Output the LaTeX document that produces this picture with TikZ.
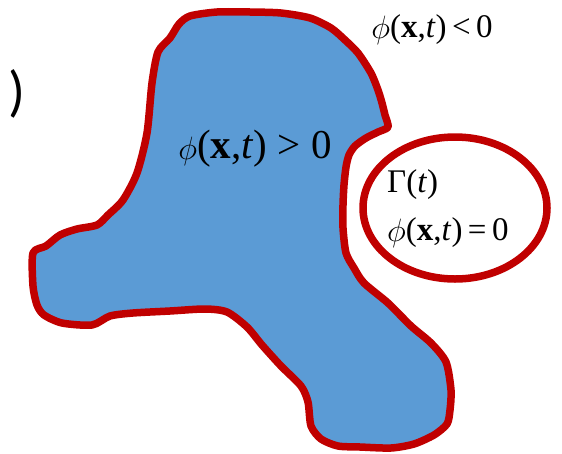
\documentclass[tikz,border=0pt]{standalone}
\usepackage{fontspec}
\setmainfont{Liberation Serif}
\newfontfamily\parenfont{Carlito}
\usetikzlibrary{shapes.geometric}
\definecolor{blobblue}{HTML}{5B9BD5}
\definecolor{edgered}{HTML}{C00000}
\tikzset{
  edge/.style={draw=edgered, line width=7.5pt, line join=round},
  lbl/.style={inner sep=0pt, text=black},
}
\newcommand{\phx}[1]{\raisebox{-0.02em}{\scalebox{1.3}{$\phi$}}(\textbf{x},\textit{t})#1}
\begin{document}
\begin{tikzpicture}[x=1pt,y=-1pt]
\useasboundingbox (0,0) rectangle (562,453);
\path[edge, fill=blobblue] plot[smooth cycle, tension=0.45] coordinates {
 (190,16) (217,12) (250,12) (281,13) (310,18) (331,28) (345,40) (358,53)
 (371,73) (378,90) (382,103) (385,115) (388,127) (378,132) (366,138)
 (355,146) (349,155) (346,167) (344,185) (343,205) (343,228) (346,253)
 (354,268) (364,283) (388,303) (411,326) (431,343) (446,362) (451,390)
 (450,410) (447,424) (434,435) (414,444) (391,448) (360,447) (338,446)
 (321,439) (311,426) (308,402) (301,386) (281,366) (262,345) (247,327)
 (227,312) (205,309) (170,311) (133,313) (110,316) (92,325) (62,323)
 (44,315) (37,305) (33,286) (33,253) (46,246) (60,235) (77,229) (97,225)
 (108,215) (123,200) (137,173) (147,133) (152,83) (158,52) (170,38)
 (179,24)
};
\node[ellipse, edge, minimum width=184pt, minimum height=142pt, inner sep=0pt] (gam) at (455,208) {};
\node[lbl, font=\fontsize{41}{44}\selectfont] (pos) at (255,149) {\phx{\ >\ 0}};
\node[lbl, font=\fontsize{33}{36}\selectfont] (neg) at (432,30) {\phx{\,<\,0}};
\node[lbl, font=\fontsize{33}{36}\selectfont, anchor=west] (gt) at (387,185) {Γ(\textit{t})};
\node[lbl, font=\fontsize{33}{36}\selectfont, anchor=west] (zero) at (387,233) {\phx{\,=\,0}};
\node[lbl, font=\parenfont\fontsize{56}{60}\selectfont] (par) at (17,94) {)};
\end{tikzpicture}
\end{document}
